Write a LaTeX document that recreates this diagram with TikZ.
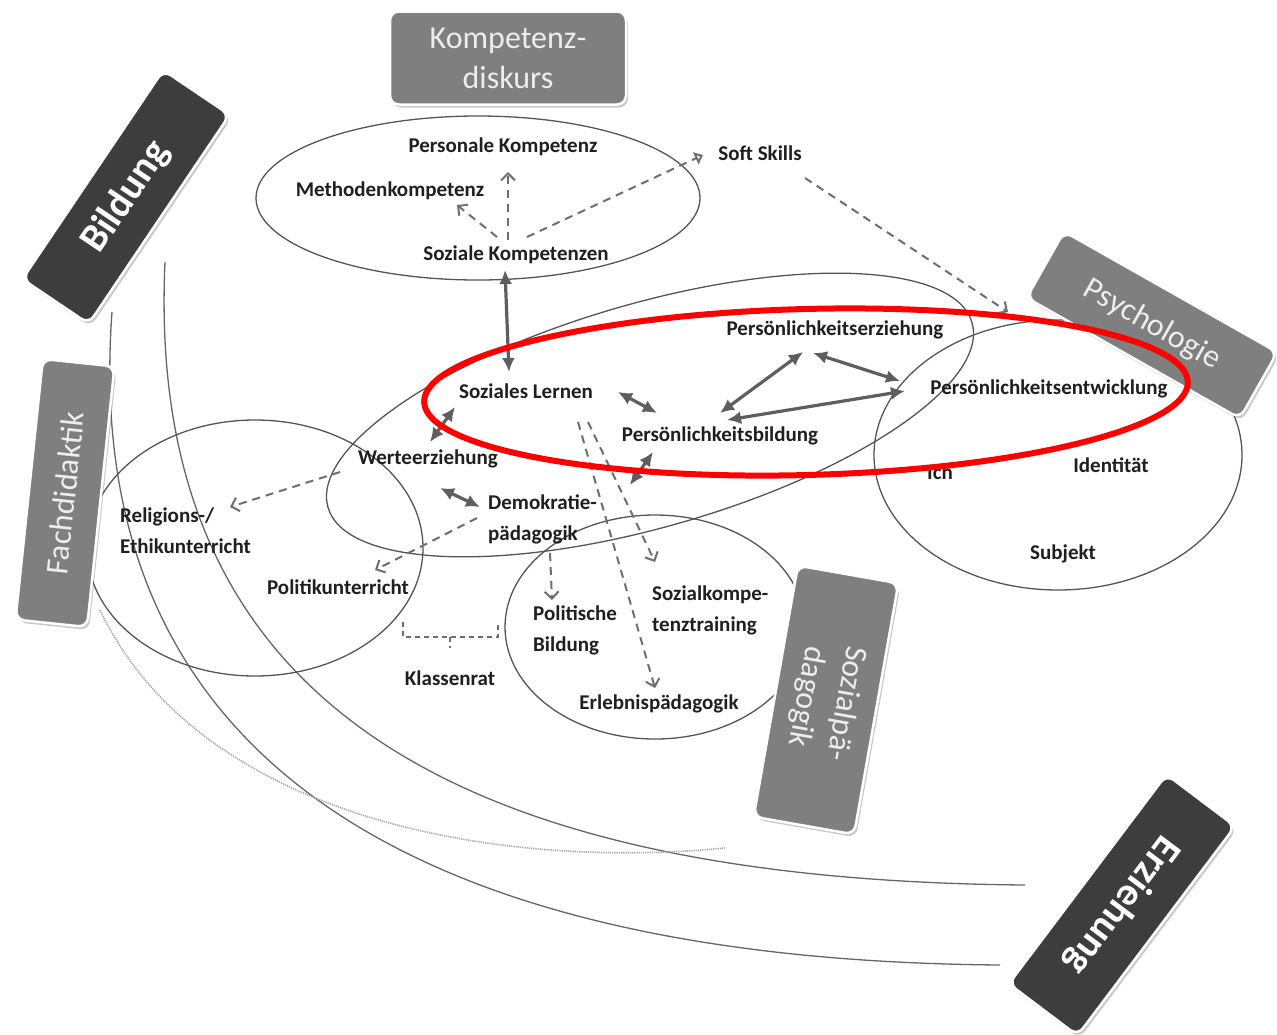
\documentclass[tikz,border=0pt]{standalone}
\usepackage{fontspec}
\setmainfont{Carlito}
\usetikzlibrary{arrows.meta, shadows, positioning}
\definecolor{boxdark}{HTML}{3D3D3D}
\definecolor{boxmid}{HTML}{7F7F7F}
\definecolor{boxtext}{HTML}{EDEDED}
\definecolor{linegray}{HTML}{555555}
\definecolor{arrowgray}{HTML}{5E5E5E}
\definecolor{dashgray}{HTML}{6E6E6E}
\newcommand{\lblsize}{\fontsize{21}{31}\selectfont}
\newcommand{\boxsize}{\fontsize{32}{40}\selectfont}

\begin{document}
\begin{tikzpicture}[x=1pt, y=-1pt,
  lbl/.style={font=\lblsize\bfseries, text=black!88, inner sep=1pt, align=left},
  area/.style={draw=linegray, line width=1.3pt},
  sweep/.style={draw=black!60, line width=1.3pt},
  topic/.style={rounded corners=9pt, draw=white, line width=2.5pt, text=boxtext, align=center,
    drop shadow={shadow xshift=2pt, shadow yshift=-3pt, opacity=0.35, fill=black!60}},
  midbox/.style={topic, fill=boxmid, font=\boxsize},
  darkbox/.style={topic, fill=boxdark, text=white, font=\fontsize{40}{44}\selectfont\bfseries},
  biarrow/.style={arrowgray, line width=3.2pt, {Latex[length=14pt,width=13pt]}-{Latex[length=14pt,width=13pt]}},
  dasharrow/.style={dashgray, line width=2pt, dash pattern=on 8pt off 6pt, -{Straight Barb[length=7pt,width=14pt]}},
  bracket/.style={dashgray, line width=1.5pt, dash pattern=on 5pt off 4pt}]
  \useasboundingbox (0,0) rectangle (1277,1034);
  \fill[white] (0,0) rectangle (1277,1034);

  % Bildung / Erziehung
  \draw[sweep] (112,312) .. controls (80,750) and (400,960) .. (1000,965);
  \draw[sweep] (165,262) .. controls (145,700) and (450,880) .. (1025,885);
  \draw[sweep, black!35, line width=1.6pt, dash pattern=on 1.2pt off 1pt] (100,610) .. controls (200,820) and (500,870) .. (725,848);

  % fields
  \draw[area] (478,198) ellipse [x radius=222, y radius=82];
  \draw[area, rotate around={16:(650,415)}] (650,415) ellipse [x radius=335, y radius=112];
  \draw[area] (255,548) ellipse [x radius=168, y radius=128];
  \draw[area] (655,627) ellipse [x radius=150, y radius=112];
  \draw[area] (1058,455) ellipse [x radius=184, y radius=135];

  \node[midbox, minimum width=236pt, minimum height=93pt] (kompetenz) at (508,58) {Kompetenz-\\diskurs};
  \node[darkbox, rotate=56, minimum width=252pt, minimum height=80pt] (bildung) at (126,197) {Bildung};
  \node[midbox, rotate=84, minimum width=262pt, minimum height=72pt] (fachdid) at (65,493) {Fachdidaktik};
  \node[midbox, rotate=-29.5, minimum width=245pt, minimum height=76pt] (psych) at (1152,325) {Psychologie};
  \node[midbox, rotate=-100, minimum width=255pt, minimum height=102pt] (sozpaed) at (826,700) {Sozialpä-\\dagogik};
  \node[darkbox, rotate=-127, minimum width=262pt, minimum height=86pt] (erziehung) at (1122,905) {Erziehung};

  \node[lbl] (perskomp) at (503,147) {Personale Kompetenz};
  \node[lbl] (methkomp) at (390,191) {Methodenkompetenz};
  \node[lbl] (sozkomp) at (516,255) {Soziale Kompetenzen};
  \node[lbl] (softsk) at (760,153) {Soft Skills};
  \node[lbl] (sozlern) at (526,391) {Soziales Lernen};
  \node[lbl] (perserz) at (835,330) {Persönlichkeitserziehung};
  \node[lbl] (persent) at (1049,389) {Persönlichkeitsentwicklung};
  \node[lbl] (persbild) at (720,436) {Persönlichkeitsbildung};
  \node[lbl] (werte) at (428,459) {Werteerziehung};
  \node[lbl, anchor=west] (demo) at (487,519) {Demokratie-\\pädagogik};
  \node[lbl, anchor=west] (relig) at (119,531) {Religions-/\\Ethikunterricht};
  \node[lbl] (politik) at (338,587) {Politikunterricht};
  \node[lbl] (klassen) at (450,678) {Klassenrat};
  \node[lbl, anchor=west] (polbild) at (532,630) {Politische\\Bildung};
  \node[lbl, anchor=west] (sozkt) at (651,610) {Sozialkompe-\\tenztraining};
  \node[lbl] (erleb) at (659,704) {Erlebnispädagogik};
  \node[lbl] (ich) at (940,472) {Ich};
  \node[lbl] (ident) at (1111,465) {Identität};
  \node[lbl] (subj) at (1063,554) {Subjekt};
  \coordinate (pbdown) at (630,485);

  \draw[biarrow] ([shift={(-11,15)}]sozkomp.center) -- ([shift={(-17,-19)}]sozlern.center);
  \draw[biarrow] ([shift={(92,1)}]sozlern.center) -- ([shift={(-63,-23)}]persbild.center);
  \draw[biarrow] ([shift={(-71,16)}]sozlern.center) -- ([shift={(2,-17)}]werte.center);
  \draw[biarrow] ([shift={(12,29)}]werte.center) -- ([shift={(-7,-12)}]demo.west);
  \draw[biarrow] ([shift={(-67,16)}]persbild.center) -- (pbdown);
  \draw[biarrow] ([shift={(0,-23)}]persbild.center) -- ([shift={(-32,22)}]perserz.center);
  \draw[biarrow] ([shift={(-22,23)}]perserz.center) -- ([shift={(-149,-8)}]persent.center);
  \draw[biarrow] ([shift={(-144,2)}]persent.center) -- ([shift={(7,-16)}]persbild.center);

  \draw[dasharrow] ([shift={(-8,-15)}]sozkomp.center) -- ([shift={(5,25)}]perskomp.center);
  \draw[dasharrow] ([shift={(-19,-18)}]sozkomp.center) -- ([shift={(67,14)}]methkomp.center);
  \draw[dasharrow, -{Triangle[open,length=8pt,width=13pt]}] ([shift={(11,-18)}]sozkomp.center) -- ([shift={(-57,2)}]softsk.center);
  \draw[dasharrow] ([shift={(45,25)}]softsk.center) -- ([shift={(-144,-13)}]psych.center);
  \draw[dasharrow] ([shift={(-88,13)}]werte.center) -- ([shift={(111,-24)}]relig.west);
  \draw[dasharrow] ([shift={(-10,-1)}]demo.west) -- ([shift={(37,-17)}]politik.center);
  \draw[dasharrow] ([shift={(52,31)}]sozlern.center) -- ([shift={(-4,-16)}]erleb.center);
  \draw[dasharrow] ([shift={(62,31)}]sozlern.center) -- ([shift={(4,-48)}]sozkt.west);
  \draw[dasharrow] ([shift={(63,34)}]demo.west) -- ([shift={(20,-30)}]polbild.west);

  \draw[bracket] ([shift={(-47,-56)}]klassen.center) -- ++(0,15) -- ++(95,0) -- ++(0,-15);
  \draw[bracket] ([shift={(0,-41)}]klassen.center) -- ([shift={(0,-30)}]klassen.center);

  \draw[red, line width=6pt, rotate around={1.5:(806,392)}] (806,392) ellipse [x radius=382, y radius=83];
\end{tikzpicture}
\end{document}
